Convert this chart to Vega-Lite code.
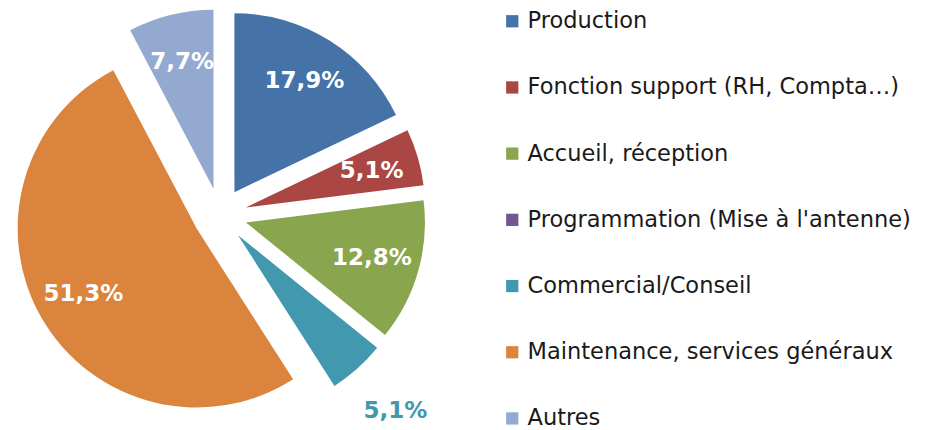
{
  "$schema": "https://vega.github.io/schema/vega-lite/v6.json",
  "width": 440,
  "height": 430,
  "padding": 0,
  "autosize": {"type": "pad"},
  "background": "white",
  "config": {
    "view": {"stroke": null},
    "locale": {"number": {"decimal": ",", "thousands": " ", "grouping": [3], "currency": ["", " €"]}},
    "font": "DejaVu Sans"
  },
  "data": {
    "values": [
      {"cat": "Production", "value": 0.179, "order": 1},
      {"cat": "Fonction support (RH, Compta…)", "value": 0.051, "order": 2},
      {"cat": "Accueil, réception", "value": 0.128, "order": 3},
      {"cat": "Programmation (Mise à l'antenne)", "value": 0.0, "order": 4},
      {"cat": "Commercial/Conseil", "value": 0.051, "order": 5},
      {"cat": "Maintenance, services généraux", "value": 0.513, "order": 6},
      {"cat": "Autres", "value": 0.077, "order": 7}
    ]
  },
  "encoding": {
    "theta": {"field": "value", "type": "quantitative", "stack": true},
    "order": {"field": "order", "type": "quantitative"},
    "color": {
      "field": "cat",
      "type": "nominal",
      "sort": ["Production", "Fonction support (RH, Compta…)", "Accueil, réception", "Programmation (Mise à l'antenne)", "Commercial/Conseil", "Maintenance, services généraux", "Autres"],
      "scale": {
        "domain": ["Production", "Fonction support (RH, Compta…)", "Accueil, réception", "Programmation (Mise à l'antenne)", "Commercial/Conseil", "Maintenance, services généraux", "Autres"],
        "range": ["#4572A7", "#AA4643", "#89A54E", "#71588F", "#4198AF", "#DB843D", "#93A9CF"]
      },
      "legend": {
        "title": null,
        "orient": "none",
        "legendX": 501,
        "legendY": 10,
        "symbolType": "square",
        "symbolSize": 150,
        "symbolStrokeWidth": 0,
        "labelFontSize": 22.5,
        "labelFont": "DejaVu Sans",
        "labelColor": "#1a1a1a",
        "labelOffset": 4,
        "rowPadding": 43.2,
        "labelLimit": 500
      }
    }
  },
  "layer": [
    {
      "mark": {
        "type": "arc",
        "outerRadius": 179,
        "xOffset": {"expr": "27*sin(PI*(datum.value_start+datum.value_end)/0.999)"},
        "yOffset": {"expr": "-27*cos(PI*(datum.value_start+datum.value_end)/0.999)"}
      }
    },
    {
      "transform": [{"filter": "datum.value > 0"}],
      "mark": {
        "type": "text",
        "fontSize": 23,
        "fontWeight": "bold",
        "radius": {"expr": "datum.cat == 'Commercial/Conseil' ? 236 : 131"},
        "fill": {"expr": "datum.cat == 'Commercial/Conseil' ? '#4198AF' : 'white'"},
        "xOffset": {"expr": "27*sin(PI*(datum.value_start+datum.value_end)/0.999)"},
        "yOffset": {"expr": "-27*cos(PI*(datum.value_start+datum.value_end)/0.999)"}
      },
      "encoding": {
        "text": {"field": "value", "type": "quantitative", "format": ".1%"},
        "color": {"value": null}
      }
    }
  ]
}
